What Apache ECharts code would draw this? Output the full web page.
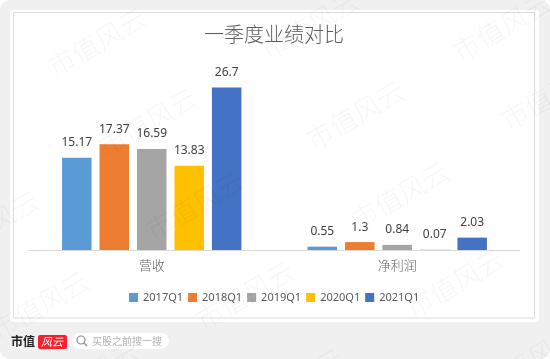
<!DOCTYPE html>
<html><head><meta charset="utf-8">
<style>html,body{margin:0;padding:0;background:#fff}#c{width:550px;height:359px}</style>
<script src="https://cdn.jsdelivr.net/npm/echarts@6/dist/echarts.min.js"></script>
</head><body><div id="c"></div>
<script>
const categories = ['营收', '净利润'];
const s2017 = [15.17, 0.55];
const s2018 = [17.37, 1.3];
const s2019 = [16.59, 0.84];
const s2020 = [13.83, 0.07];
const s2021 = [26.7, 2.03];
const seriesNames = ['2017Q1', '2018Q1', '2019Q1', '2020Q1', '2021Q1'];
const seriesValues = [s2017, s2018, s2019, s2020, s2021];
const colors = ['#5B9BD5', '#ED7D31', '#A5A5A5', '#FFC000', '#4472C4'];
const wmCenters = [[97,42],[148,122],[310,25],[355,115],[502,27],[550,95],[195,205],[40,305],[-10,225],[245,295],[400,195],[455,283],[295,382],[530,360],[90,375]];
const cjk = '"Noto Sans CJK SC","Noto Sans",sans-serif';
const chart = echarts.init(document.getElementById('c'), null, {renderer:'canvas'});
const wm = wmCenters.map(p => ({
  type:'text', x:p[0], y:p[1], rotation:Math.PI/6, z:100, silent:true,
  style:{text:'市值风云', font:'300 27px '+cjk, fill:'rgba(0,0,0,0.04)', align:'center', verticalAlign:'middle'}
}));
chart.setOption({
  animation:false,
  backgroundColor:'#fff',
  title:{text:'一季度业绩对比', left:269, top:19, textAlign:'center',
    textStyle:{fontFamily:cjk, fontSize:20, fontWeight:300, color:'#5f5f5f'}},
  legend:{data:seriesNames, left:129, top:292, padding:0, itemWidth:9, itemHeight:9, itemGap:5, icon:'rect',
    textStyle:{fontFamily:'"Noto Sans",sans-serif', fontSize:11, color:'#595959'}},
  grid:{left:29, top:67.4, width:491, height:182.6, containLabel:false},
  xAxis:{type:'category', data:categories,
    axisLine:{lineStyle:{color:'#d9d9d9', width:1}}, axisTick:{show:false},
    axisLabel:{fontFamily:cjk, fontSize:13, fontWeight:300, color:'#666', margin:9}},
  yAxis:{type:'value', min:0, max:30, show:false, splitLine:{show:false}},
  series:seriesNames.map((n,i)=>({
    name:n, type:'bar', data:seriesValues[i], barWidth:29.5, barGap:'27%',
    itemStyle:{color:colors[i]},
    label:{show:true, position:'top', distance:9, fontFamily:'"Noto Sans",sans-serif', fontSize:12, color:'#404040'}
  })),
  graphic:[
    {type:'rect', z:-10, shape:{x:0,y:0,width:550,height:359,r:10}, style:{fill:'#f0f0f0'}},
    {type:'rect', z:-9, shape:{x:10,y:10,width:529,height:312,r:3}, style:{fill:'#fff'}},
    {type:'rect', z:-8, shape:{x:13.5,y:12.5,width:521,height:305.5}, style:{fill:'#fff', stroke:'#dcdcdc', lineWidth:1}},
    {type:'text', x:11, y:341, z:5, style:{text:'市值', font:'bold 12px '+cjk, fill:'#222', verticalAlign:'middle'}},
    {type:'rect', z:5, shape:{x:38,y:335,width:29,height:14,r:2}, style:{fill:'#f5222d'}},
    {type:'text', x:52, y:342, z:6, style:{text:'风云', font:'italic 11px '+cjk, fill:'#fff', align:'center', verticalAlign:'middle'}},
    {type:'rect', z:5, shape:{x:72,y:333,width:97,height:16,r:8}, style:{fill:'#fff'}},
    {type:'circle', z:6, shape:{cx:81,cy:340,r:4}, style:{fill:'none', stroke:'#8a8a8a', lineWidth:1.2}},
    {type:'line', z:6, shape:{x1:84,y1:343,x2:87,y2:346}, style:{stroke:'#8a8a8a', lineWidth:1.2}},
    {type:'text', x:92, y:341, z:6, style:{text:'买股之前搜一搜', font:'10px '+cjk, fill:'#b0b0b0', verticalAlign:'middle'}}
  ].concat(wm)
});
</script></body></html>
